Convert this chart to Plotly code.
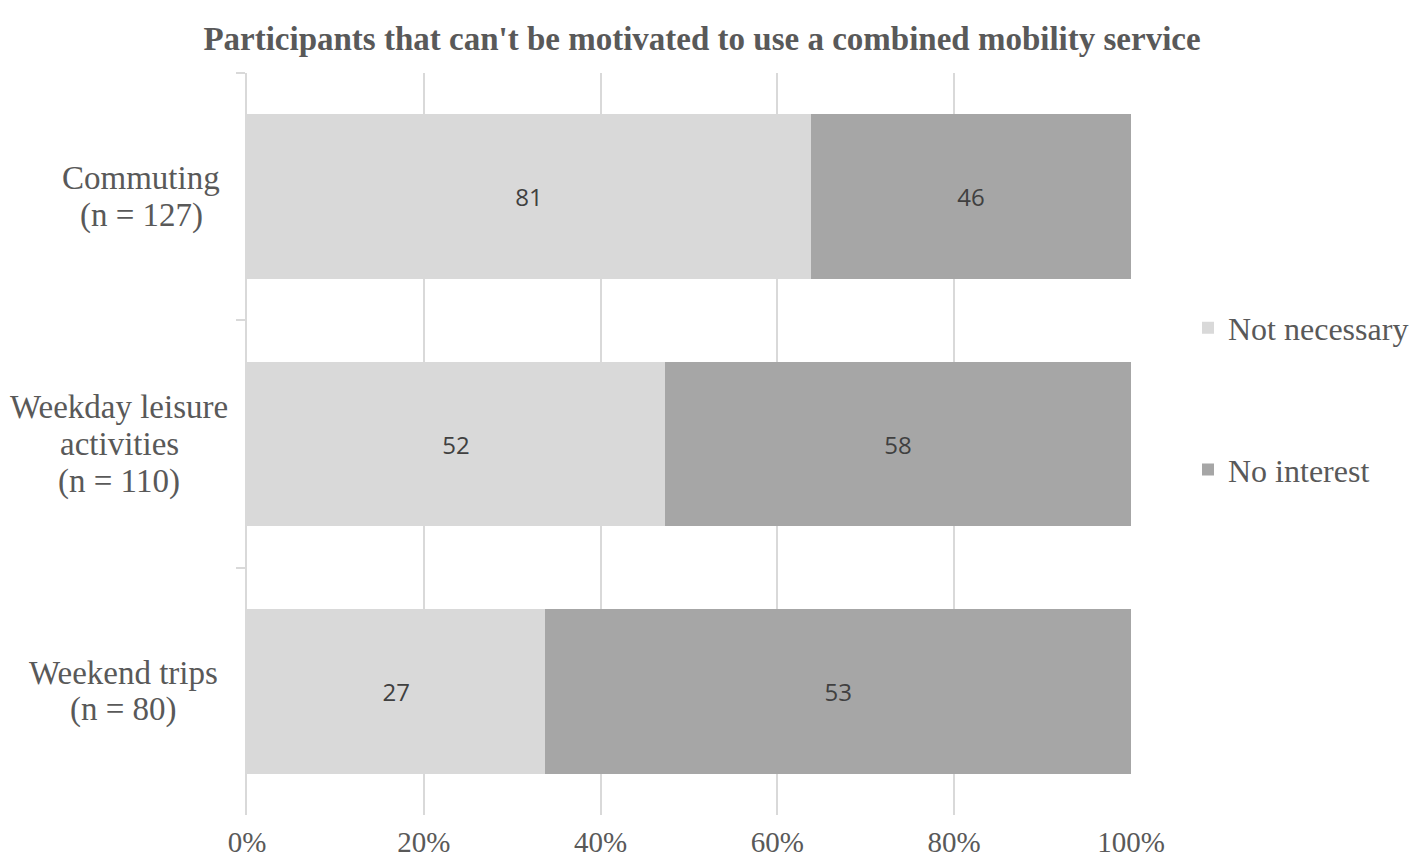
import plotly.graph_objects as go

categories = ["Commuting", "Weekday leisure activities", "Weekend trips"]
cat_label_lines = [["Commuting", "(n = 127)"],
                   ["Weekday leisure", "activities", "(n = 110)"],
                   ["Weekend trips", "(n = 80)"]]
not_necessary = [81, 52, 27]
no_interest = [46, 58, 53]
x_ticks = [0, 20, 40, 60, 80, 100]
x_tick_labels = ["0%", "20%", "40%", "60%", "80%", "100%"]

serif = "Liberation Serif, Times New Roman, serif"
sans = "Open Sans, Noto Sans, sans-serif"

# page offset (body margin) compensation
OFF = 8
W, H = 1418, 861
L, R, T, B = 247 - OFF, W - (1131 - OFF), 73 - OFF, H - (815 - OFF)

fig = go.Figure()
fig.add_trace(go.Bar(
    y=categories, x=not_necessary, orientation="h", name="Not necessary",
    marker=dict(color="#d9d9d9", line=dict(width=0)),
    text=not_necessary, textposition="inside", insidetextanchor="middle",
    textfont=dict(family=sans, size=24, color="#404040"),
    legendgroup="a",
))
fig.add_trace(go.Bar(
    y=categories, x=no_interest, orientation="h", name="No interest",
    marker=dict(color="#a6a6a6", line=dict(width=0)),
    text=no_interest, textposition="inside", insidetextanchor="middle",
    textfont=dict(family=sans, size=24, color="#404040"),
    legendgroup="b",
))

# category label blocks: lines centred, block right-aligned near the axis
block_centers_px = [141 - OFF, 119 - OFF, 123 - OFF]
line_gap = 37
annotations = []
for c, lines, cx in zip(categories, cat_label_lines, block_centers_px):
    n = len(lines)
    for i, ln in enumerate(lines):
        annotations.append(dict(
            x=0, xref="paper", y=c, yref="y", text=ln, showarrow=False,
            xanchor="center", yanchor="middle", xshift=cx - L,
            yshift=((n - 1) / 2 - i) * line_gap,
            font=dict(family=serif, size=33, color="#595959"),
        ))

fig.update_layout(
    width=W, height=H,
    barmode="stack", barnorm="percent", bargap=0.333,
    plot_bgcolor="white", paper_bgcolor="white",
    margin=dict(l=L, r=R, t=T, b=B, autoexpand=False),
    title=dict(text="<b>Participants that can't be motivated to use a combined mobility service</b>",
               x=(702 - OFF) / W, xanchor="center", y=1 - (38 - OFF) / H, yanchor="middle",
               font=dict(family=serif, size=33, color="#595959")),
    xaxis=dict(range=[0, 100], tickvals=x_ticks, ticktext=x_tick_labels,
               showgrid=True, gridcolor="#d9d9d9", gridwidth=2,
               zeroline=False, showline=False, ticks="", automargin=False,
               ticklabelstandoff=7,
               tickfont=dict(family=serif, size=29, color="#595959")),
    yaxis=dict(autorange="reversed", showticklabels=False, automargin=False,
               showline=True, linecolor="#d9d9d9", linewidth=2,
               ticks="outside", tickson="boundaries", ticklen=9, tickcolor="#d9d9d9", tickwidth=2,
               showgrid=False, zeroline=False),
    legend=dict(xref="container", yref="container",
                x=(1188 - OFF) / W, xanchor="left",
                y=1 - (399 - OFF) / H, yanchor="middle",
                traceorder="grouped", tracegroupgap=97, itemwidth=30,
                font=dict(family=serif, size=32, color="#595959"),
                bgcolor="rgba(0,0,0,0)"),
    annotations=annotations,
    showlegend=True,
)

fig.write_html("out.html")
